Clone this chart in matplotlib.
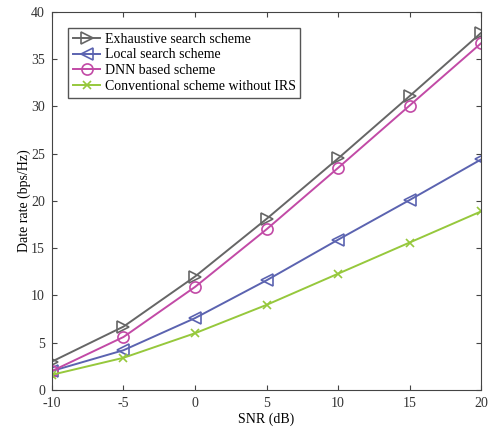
import matplotlib
matplotlib.use("Agg")
import matplotlib.pyplot as plt

# SNR points and data rates
snr = [-10, -5, 0, 5, 10, 15, 20]
exhaustive = [3.0, 6.7, 12.0, 18.1, 24.5, 31.1, 37.8]
local = [2.0, 4.2, 7.6, 11.6, 15.9, 20.1, 24.4]
dnn = [2.0, 5.6, 10.9, 17.0, 23.5, 30.1, 36.7]
conventional = [1.6, 3.4, 6.0, 9.0, 12.3, 15.6, 18.9]

labels = ["Exhaustive search scheme", "Local search scheme",
          "DNN based scheme", "Conventional scheme without IRS"]

plt.rcParams['font.family'] = ['Liberation Serif', 'DejaVu Serif']
plt.rcParams['font.size'] = 10
plt.rcParams['axes.unicode_minus'] = False

fig, ax = plt.subplots(figsize=(4.9, 4.28), dpi=100)
fig.subplots_adjust(left=0.106, right=0.982, top=0.972, bottom=0.089)

ax.plot(snr, exhaustive, color='#666666', marker='>', markersize=9,
        markerfacecolor='none', markeredgewidth=1.2, linewidth=1.4, label=labels[0])
ax.plot(snr, local, color='#5b63b0', marker='<', markersize=9,
        markerfacecolor='none', markeredgewidth=1.2, linewidth=1.4, label=labels[1])
ax.plot(snr, dnn, color='#c24aa6', marker='o', markersize=8,
        markerfacecolor='none', markeredgewidth=1.2, linewidth=1.4, label=labels[2])
ax.plot(snr, conventional, color='#96c83c', marker='x', markersize=5.5,
        markeredgewidth=1.2, linewidth=1.4, label=labels[3])

ax.set_xlim(-10, 20)
ax.set_ylim(0, 40)
ax.set_xticks(snr)
ax.set_yticks(range(0, 41, 5))
ax.set_xlabel("SNR (dB)", labelpad=2)
ax.set_ylabel("Date rate (bps/Hz)", labelpad=0)
ax.tick_params(direction='in', top=True, right=True, colors='#444444',
               labelcolor='#333333', pad=5)
for s in ax.spines.values():
    s.set_color('#444444')

leg = ax.legend(loc='upper left', bbox_to_anchor=(0.037, 0.958), borderaxespad=0,
                fancybox=False, framealpha=1, edgecolor='#555555', handlelength=2.0,
                borderpad=0.35, labelspacing=0.2, handletextpad=0.3)
leg.get_frame().set_linewidth(1.0)

fig.savefig("out.png")
